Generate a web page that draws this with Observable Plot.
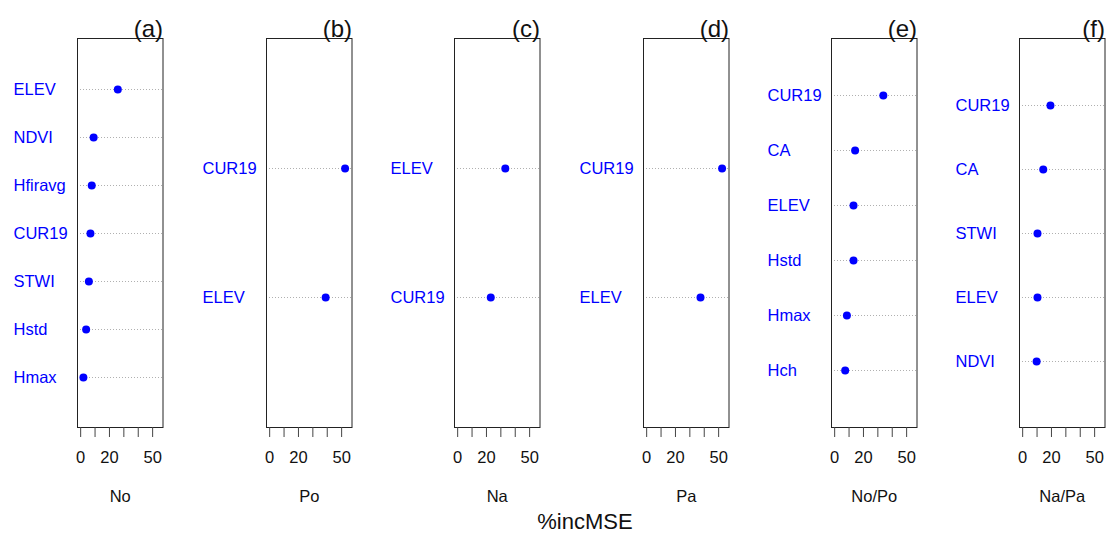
<!DOCTYPE html>
<html>
<head>
<meta charset="utf-8">
<script src="https://cdn.jsdelivr.net/npm/d3@7"></script>
<script src="https://cdn.jsdelivr.net/npm/@observablehq/plot@0.6"></script>
<style>
  body { margin: 0; background: #fff; }
  #chart {
    position: relative; width: 1106px; height: 543px; overflow: hidden;
    font-family: "Liberation Sans", Arial, sans-serif; background: #fff;
  }
  #chart .panel { position: absolute; top: 0; }
  #xtitle {
    position: absolute; top: 509px; left: 485px; width: 200px;
    text-align: center; font-size: 22px; line-height: 26px; color: #111;
  }
</style>
</head>
<body>
<div id="chart"><div id="xtitle">%incMSE</div></div>
<script>
// Variable importance (%incMSE) per response, predictors listed top to bottom
const panelTags = ["(a)", "(b)", "(c)", "(d)", "(e)", "(f)"];
const responses = ["No", "Po", "Na", "Pa", "No/Po", "Na/Pa"];

const predictorsNo = ["ELEV", "NDVI", "Hfiravg", "CUR19", "STWI", "Hstd", "Hmax"];
const incMseNo = [25.8, 9.0, 7.7, 6.8, 5.7, 3.8, 1.9];

const predictorsPo = ["CUR19", "ELEV"];
const incMsePo = [52.4, 38.9];

const predictorsNa = ["ELEV", "CUR19"];
const incMseNa = [33.1, 23.0];

const predictorsPa = ["CUR19", "ELEV"];
const incMsePa = [52.4, 37.4];

const predictorsNoPo = ["CUR19", "CA", "ELEV", "Hstd", "Hmax", "Hch"];
const incMseNoPo = [33.8, 14.2, 13.1, 13.1, 8.5, 7.3];

const predictorsNaPa = ["CUR19", "CA", "STWI", "ELEV", "NDVI"];
const incMseNaPa = [19.3, 14.3, 10.3, 10.3, 9.7];

// Shared x axis: limits 0–55 with 4% padding, ticks every 10, only some labelled
const xLimits = [0, 55];
const xTicks = [0, 10, 20, 30, 40, 50];
const xTickLabels = ["0", "", "20", "", "", "50"];

const panels = [
  [predictorsNo, incMseNo],
  [predictorsPo, incMsePo],
  [predictorsNa, incMseNa],
  [predictorsPa, incMsePa],
  [predictorsNoPo, incMseNoPo],
  [predictorsNaPa, incMseNaPa]
];

// Layout
const boxLefts = [77, 266, 454, 643, 831, 1019];
const boxWidth = 85.5;
const boxTop = 38;
const boxBottom = 427;
const svgHeight = 543;
const marginLeft = 70;
const svgWidth = 190;
const labelOffset = 64;
const blue = "#0000ff";

const pad = (xLimits[1] - xLimits[0]) * 0.04;
const xDomain = [xLimits[0] - pad, xLimits[1] + pad];

const chart = document.getElementById("chart");

panels.forEach(([names, values], i) => {
  const rows = names.map((name, k) => ({name, value: values[k]}));
  const svg = Plot.plot({
    width: svgWidth,
    height: svgHeight,
    marginLeft,
    marginRight: svgWidth - marginLeft - boxWidth,
    marginTop: boxTop,
    marginBottom: svgHeight - boxBottom,
    style: {fontFamily: "'Liberation Sans', Arial, sans-serif", fontSize: "16px", color: "#222", background: "transparent", overflow: "visible"},
    x: {domain: xDomain},
    y: {type: "point", domain: names, padding: 1, axis: null},
    marks: [
      Plot.ruleY(rows, {y: "name", stroke: "#b0b0b0", strokeDasharray: "1 2", strokeWidth: 1}),
      Plot.frame({stroke: "#222", strokeWidth: 1}),
      Plot.dot(rows, {x: "value", y: "name", r: 4, fill: blue, stroke: "none"}),
      Plot.text(rows, {y: "name", text: "name", frameAnchor: "left", dx: -labelOffset, textAnchor: "start", fill: blue, fontSize: 16.5}),
      Plot.axisX({ticks: xTicks, tickFormat: (d) => xTickLabels[xTicks.indexOf(d)], tickSize: 10, tickPadding: 14, fontSize: 16.5, label: null, stroke: "#444", fill: "#111"}),
      Plot.text([responses[i]], {frameAnchor: "bottom", dy: 69, lineAnchor: "middle", fontSize: 16.5, fill: "#111"}),
      Plot.text([panelTags[i]], {frameAnchor: "top-right", textAnchor: "end", lineAnchor: "bottom", dy: -2, fontSize: 24, fill: "#111"})
    ]
  });
  svg.classList.add("panel");
  svg.style.left = (boxLefts[i] - marginLeft) + "px";
  chart.appendChild(svg);
});
</script>
</body>
</html>
